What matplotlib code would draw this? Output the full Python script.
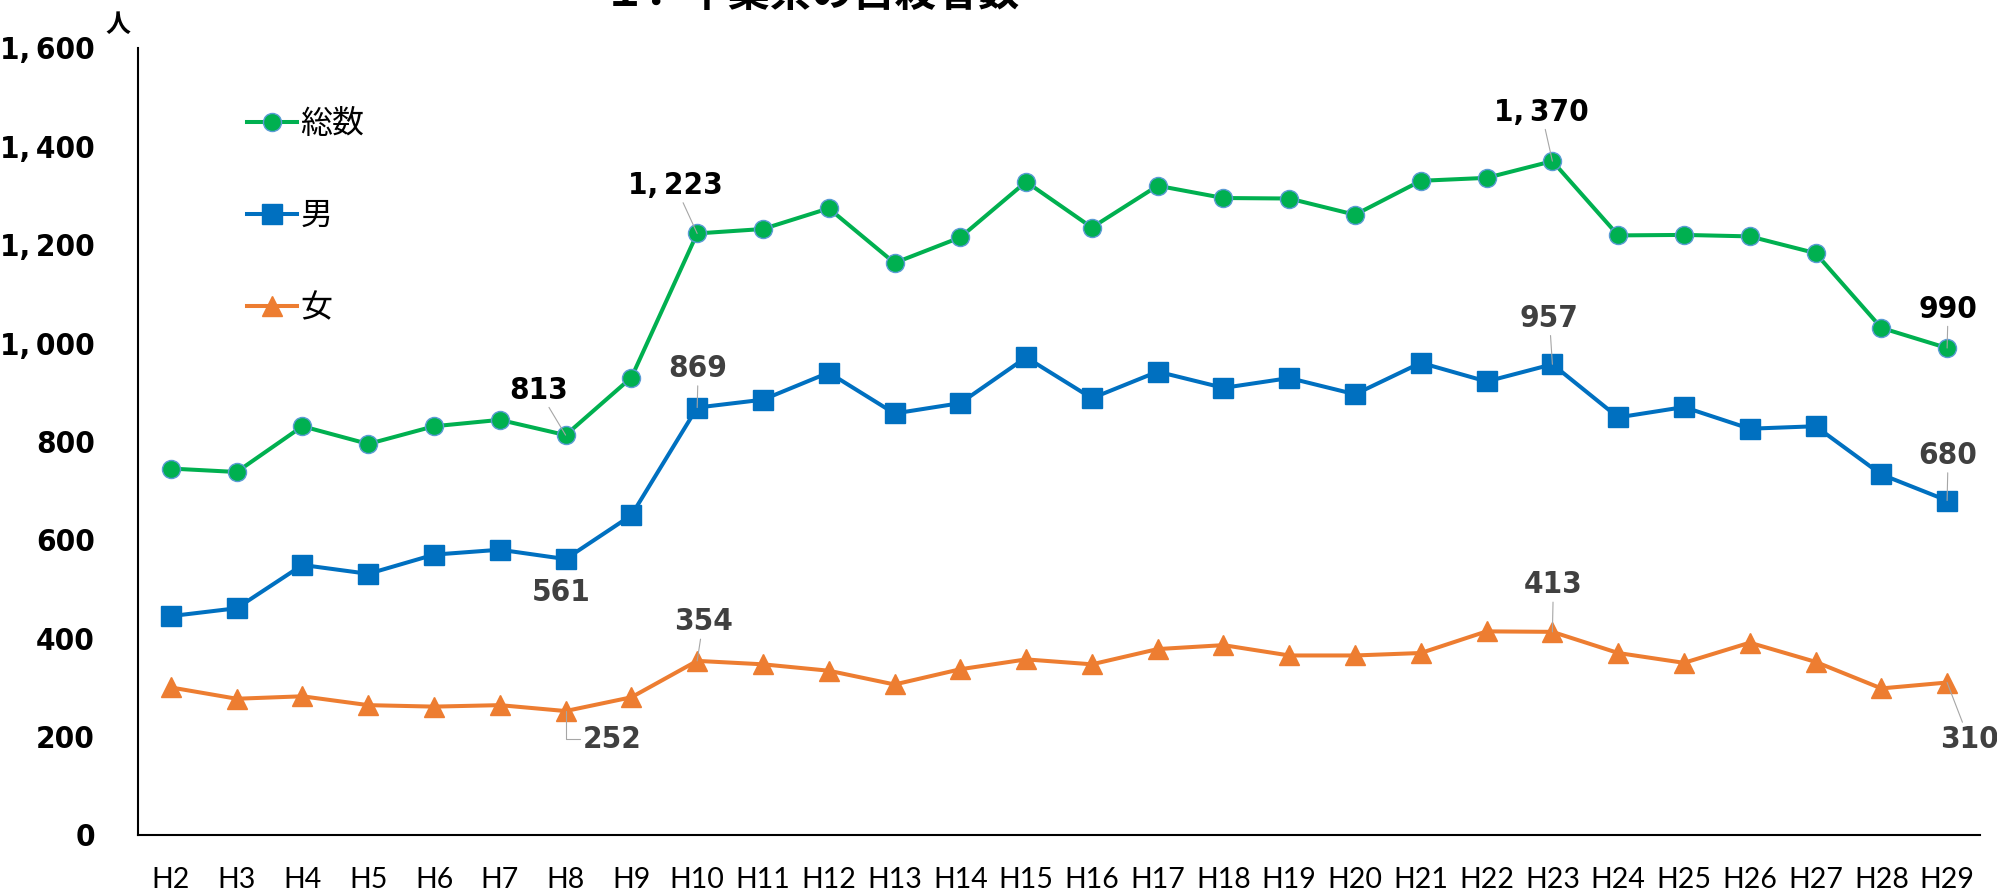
import numpy as np
import matplotlib.pyplot as plt
from matplotlib import font_manager
from matplotlib.font_manager import FontProperties
from matplotlib.ticker import FuncFormatter

# 千葉県の自殺者数（平成2年〜平成29年）
years = ['H2', 'H3', 'H4', 'H5', 'H6', 'H7', 'H8', 'H9', 'H10', 'H11',
         'H12', 'H13', 'H14', 'H15', 'H16', 'H17', 'H18', 'H19', 'H20', 'H21',
         'H22', 'H23', 'H24', 'H25', 'H26', 'H27', 'H28', 'H29']
total = [745, 738, 831, 795, 831, 844, 813, 930, 1223, 1232,
         1274, 1163, 1215, 1328, 1235, 1320, 1295, 1294, 1261, 1330,
         1336, 1370, 1219, 1220, 1217, 1183, 1031, 990]
male = [445, 461, 549, 531, 570, 580, 561, 650, 869, 885,
        940, 857, 878, 971, 888, 942, 909, 929, 896, 960,
        922, 957, 849, 870, 826, 831, 733, 680]
female = [300, 277, 282, 264, 261, 264, 252, 280, 354, 347,
          334, 306, 337, 357, 347, 378, 386, 365, 365, 370,
          414, 413, 370, 350, 391, 352, 298, 310]

JP = ['Noto Sans CJK JP', 'DejaVu Sans']


def narrow_bold_font():
    # look for a condensed / narrow bold face among the installed fonts
    best = None
    for f in font_manager.fontManager.ttflist:
        name = f.name.lower()
        fname = f.fname.lower()
        narrow = ('narrow' in name or 'condensed' in name or 'narrow' in fname
                  or 'condensed' in fname or 'cond' in fname
                  or f.stretch in ('condensed', 'semi-condensed', 'extra-condensed'))
        if not narrow or 'oblique' in fname or 'italic' in fname:
            continue
        bold = f.weight in ('bold', 700, 'heavy', 800, 'semibold', 600) or 'bold' in fname
        score = (2 if bold else 0) + (1 if 'sans' in name else 0)
        if best is None or score > best[0]:
            best = (score, f.fname)
    if best is None:
        return FontProperties(family='DejaVu Sans', weight='bold')
    return FontProperties(fname=best[1])


NUM = narrow_bold_font()
NUM_SIZE = 22.5


def fmt(v):
    return f'{int(v):,}'.replace(',', ',\u2009')


GREEN = '#00B050'
BLUE = '#0070C0'
ORANGE = '#ED7D31'

fig = plt.figure(figsize=(19.97, 8.92), dpi=100)
W, H = 1997, 892
ax = fig.add_axes([138 / W, (H - 835) / H, (1980 - 138) / W, (835 - 48) / H])

x = np.arange(len(years))
ax.plot(x, total, color=GREEN, lw=2.9, marker='o', ms=13, mfc=GREEN,
        mec='#5B9BD5', mew=1, label='総数', zorder=4)
ax.plot(x, male, color=BLUE, lw=2.9, marker='s', ms=14, mfc=BLUE,
        mec=BLUE, label='男', zorder=3)
ax.plot(x, female, color=ORANGE, lw=2.9, marker='^', ms=15, mfc=ORANGE,
        mec=ORANGE, label='女', zorder=3)

ax.set_xlim(-0.5, len(years) - 0.5)
ax.set_ylim(0, 1600)
ax.set_yticks(range(0, 1601, 200))
ax.yaxis.set_major_formatter(FuncFormatter(lambda v, p: fmt(v)))
ax.set_xticks(x)
ax.set_xticklabels(years)

ax.tick_params(axis='y', length=0, pad=31)
ax.tick_params(axis='x', length=0, pad=23, labelsize=20.5)
for t in ax.get_yticklabels():
    t.set_fontproperties(NUM)
    t.set_fontsize(NUM_SIZE)
for t in ax.get_xticklabels():
    t.set_family(['Lato', 'DejaVu Sans'])

for side in ['top', 'right']:
    ax.spines[side].set_visible(False)
for side in ['left', 'bottom']:
    ax.spines[side].set_linewidth(1.5)
    ax.spines[side].set_color('black')

# value labels: series, index, offset (px, right/down), colour, leader style
labels = [
    (total, 6, -27, -45, 'black', 'line'),
    (total, 8, -22, -48, 'black', 'line'),
    (total, 21, -11, -49, 'black', 'line'),
    (total, 27, 1, -39, 'black', 'line'),
    (male, 8, 1, -39, '#404040', 'line'),
    (male, 6, -4, 33, '#404040', None),
    (male, 21, -3, -46, '#404040', 'line'),
    (male, 27, 1, -45, '#404040', 'line'),
    (female, 8, 6, -39, '#404040', 'line'),
    (female, 6, 47, 28, '#404040', 'bent'),
    (female, 21, 1, -47, '#404040', 'line'),
    (female, 27, 22, 57, '#404040', 'line'),
]
for series, i, dx, dy, col, leader in labels:
    arrow = None
    if leader == 'line':
        arrow = dict(arrowstyle='-', color='#A6A6A6', lw=0.8, shrinkA=0, shrinkB=0)
    elif leader == 'bent':
        arrow = dict(arrowstyle='-', color='#A6A6A6', lw=0.8, shrinkA=0, shrinkB=0,
                     connectionstyle='angle,angleA=0,angleB=90,rad=0')
    txt = ax.annotate(fmt(series[i]), xy=(i, series[i]),
                      xytext=(dx, -dy), textcoords='offset pixels',
                      ha='center', va='center', color=col,
                      arrowprops=arrow, zorder=5, annotation_clip=False)
    txt.set_fontproperties(NUM)
    txt.set_fontsize(NUM_SIZE)

leg = ax.legend(loc='upper left', bbox_to_anchor=(247 / W, (H - 108) / H),
                bbox_transform=fig.transFigure, frameon=False,
                prop={'family': JP, 'size': 23}, handlelength=1.57,
                handletextpad=0.1, labelspacing=1.88, borderpad=0,
                borderaxespad=0)

fig.text(118 / W, 1 - 25 / H, '人', family=JP, fontsize=18, fontweight='bold',
         ha='center', va='center')
fig.text(812 / W, 1 - 6 / H, '１．千葉県の自殺者数', family=JP, fontsize=30,
         fontweight='bold', ha='center', va='baseline')

fig.savefig('out.png', dpi=100)
